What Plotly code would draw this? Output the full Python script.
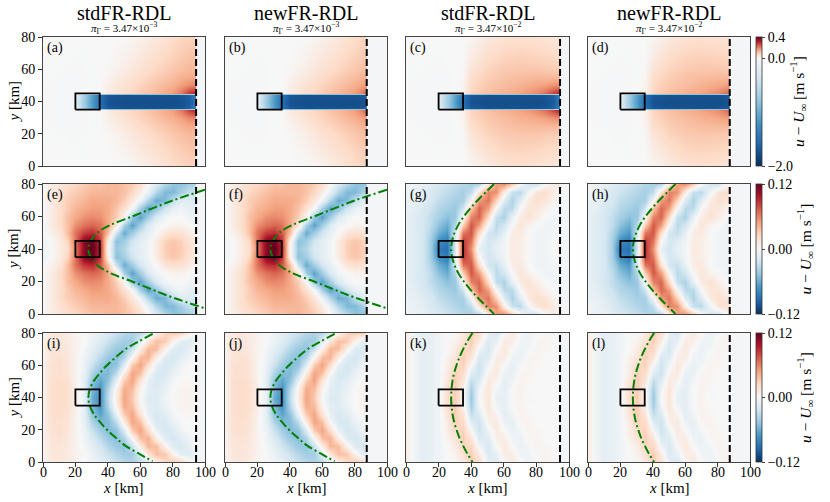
import plotly.graph_objects as go

# ---------------------------------------------------------------- labels
COL_TITLES = ['stdFR-RDL', 'newFR-RDL', 'stdFR-RDL', 'newFR-RDL']
PI_EXP = ['−3', '−3', '−2', '−2']
PANEL_LABELS = ['(a)', '(b)', '(c)', '(d)', '(e)', '(f)',
                '(g)', '(h)', '(i)', '(j)', '(k)', '(l)']
CUT_STD = 94.5          # x of the dashed line, std runs
CUT_NEW = 87.5          # x of the dashed line, new runs
TURBINE_X = [20, 35]
TURBINE_Y = [35, 45]
Y_MID = 40
X_RANGE = [0, 100]
Y_RANGE = [0, 80]
X_TICKS = [0, 20, 40, 60, 80, 100]
Y_TICKS = [0, 20, 40, 60, 80]

ROW1_LIMITS = [-2.0, 0.4]
ROW1_TICKS = [-2.0, 0.0, 0.4]
ROW1_TICKTEXT = ['−2.0', '0.0', '0.4']
ROW23_LIMITS = [-0.12, 0.12]
ROW23_TICKS = [-0.12, 0.0, 0.12]
ROW23_TICKTEXT = ['−0.12', '0.00', '0.12']

RDBU_R = ['#053061', '#2166ac', '#4393c3', '#92c5de', '#d1e5f0', '#f7f7f7',
          '#fddbc7', '#f4a582', '#d6604d', '#b2182b', '#67001f']

# ---------------------------------------------------------------- row 1 fields (upper half, y >= 40)
X1 = [0, 10, 19, 21, 28, 35, 40, 50, 60, 70, 80, 85, 90, 95, 100]
Y1_HALF = [40, 44, 45.5, 50, 55, 60, 70, 80]

U_AB = [
    [-0.01, -0.02, -0.03, -0.35, -0.95, -1.55, -1.75, -1.78, -1.78, -1.78, -1.78, -1.75, -1.7, -1.4, -0.3],
    [-0.01, -0.02, -0.03, -0.3, -0.9, -1.5, -1.7, -1.75, -1.75, -1.75, -1.75, -1.72, -1.65, -1.3, -0.3],
    [-0.01, -0.02, -0.02, -0.02, -0.01, 0.0, 0.035, 0.07, 0.1, 0.13, 0.17, 0.21, 0.28, 0.32, 0.0],
    [-0.01, -0.02, -0.02, -0.02, -0.01, 0.0, 0.025, 0.06, 0.09, 0.115, 0.145, 0.165, 0.19, 0.2, 0.0],
    [-0.005, -0.015, -0.02, -0.02, -0.01, 0.0, 0.015, 0.045, 0.075, 0.1, 0.125, 0.14, 0.15, 0.15, 0.0],
    [-0.005, -0.01, -0.015, -0.015, -0.01, 0.0, 0.005, 0.03, 0.06, 0.085, 0.11, 0.12, 0.13, 0.13, 0.0],
    [0.0, -0.005, -0.01, -0.01, -0.005, 0.0, 0.0, 0.015, 0.04, 0.065, 0.09, 0.1, 0.11, 0.11, 0.0],
    [0.0, 0.0, -0.005, -0.005, 0.0, 0.0, 0.0, 0.0, 0.02, 0.045, 0.075, 0.085, 0.09, 0.09, 0.0],
]

U_CD = [
    [-0.01, -0.02, -0.03, -0.35, -0.95, -1.55, -1.75, -1.78, -1.78, -1.78, -1.78, -1.75, -1.7, -1.4, -0.3],
    [-0.01, -0.02, -0.03, -0.3, -0.9, -1.5, -1.7, -1.75, -1.75, -1.75, -1.75, -1.72, -1.65, -1.3, -0.3],
    [-0.01, -0.02, -0.02, -0.02, -0.01, 0.02, 0.09, 0.12, 0.14, 0.16, 0.19, 0.22, 0.27, 0.32, 0.0],
    [-0.01, -0.02, -0.02, -0.02, -0.01, 0.015, 0.08, 0.11, 0.125, 0.14, 0.155, 0.165, 0.18, 0.19, 0.0],
    [-0.005, -0.015, -0.02, -0.02, -0.01, 0.01, 0.07, 0.1, 0.115, 0.125, 0.13, 0.13, 0.13, 0.13, 0.0],
    [-0.005, -0.01, -0.015, -0.015, -0.01, 0.005, 0.055, 0.09, 0.105, 0.11, 0.11, 0.105, 0.1, 0.1, 0.0],
    [0.0, -0.005, -0.01, -0.01, -0.005, 0.0, 0.03, 0.065, 0.085, 0.09, 0.085, 0.08, 0.075, 0.07, 0.0],
    [0.0, 0.0, -0.005, -0.005, 0.0, 0.0, 0.01, 0.04, 0.06, 0.065, 0.06, 0.055, 0.05, 0.045, 0.0],
]

# ---------------------------------------------------------------- rows 2-3 fields (upper half, y >= 40)
X2 = [0, 5, 10, 15, 20, 25, 30, 35, 40, 45, 50, 55, 60, 65, 70, 75, 80, 85, 90, 95, 100]
Y2_HALF = [40, 45, 50, 55, 60, 65, 70, 75, 80]

U_EF = [
    [-0.005, 0.0, 0.01, 0.02, 0.06, 0.11, 0.125, 0.09, 0.0, -0.045, -0.035, -0.018, -0.012, -0.005, 0.01, 0.03, 0.035, 0.03, 0.02, 0.01, 0.0],
    [-0.005, 0.0, 0.01, 0.025, 0.065, 0.11, 0.12, 0.085, 0.005, -0.05, -0.042, -0.022, -0.012, -0.005, 0.01, 0.028, 0.033, 0.028, 0.018, 0.008, 0.0],
    [0.0, 0.005, 0.015, 0.035, 0.065, 0.085, 0.09, 0.075, 0.035, -0.025, -0.06, -0.042, -0.022, -0.01, 0.0, 0.015, 0.02, 0.018, 0.01, 0.005, 0.0],
    [0.0, 0.01, 0.02, 0.035, 0.055, 0.065, 0.07, 0.065, 0.045, 0.015, -0.04, -0.065, -0.042, -0.018, -0.005, 0.0, 0.005, 0.005, 0.0, -0.005, -0.005],
    [0.0, 0.01, 0.02, 0.035, 0.045, 0.055, 0.058, 0.055, 0.045, 0.03, 0.005, -0.045, -0.065, -0.042, -0.018, -0.005, 0.0, 0.0, -0.005, -0.01, -0.01],
    [0.0, 0.01, 0.02, 0.03, 0.04, 0.045, 0.05, 0.05, 0.045, 0.035, 0.02, 0.0, -0.04, -0.065, -0.048, -0.024, -0.01, -0.005, -0.01, -0.015, -0.015],
    [0.0, 0.01, 0.02, 0.03, 0.035, 0.04, 0.045, 0.045, 0.045, 0.04, 0.03, 0.015, -0.005, -0.035, -0.06, -0.054, -0.03, -0.015, -0.015, -0.02, -0.02],
    [0.0, 0.01, 0.018, 0.025, 0.03, 0.035, 0.04, 0.04, 0.04, 0.04, 0.035, 0.025, 0.01, -0.01, -0.035, -0.054, -0.054, -0.04, -0.028, -0.025, -0.025],
    [0.0, 0.008, 0.015, 0.02, 0.025, 0.03, 0.035, 0.035, 0.04, 0.04, 0.035, 0.03, 0.02, 0.0, -0.018, -0.035, -0.048, -0.048, -0.04, -0.032, -0.03],
]

U_GH = [
    [-0.01, -0.015, -0.02, -0.04, -0.085, -0.09, -0.02, 0.09, 0.055, -0.01, -0.022, -0.01, -0.005, 0.012, 0.008, 0.0, -0.005, -0.005, 0.0, 0.005, 0.0],
    [-0.01, -0.015, -0.02, -0.04, -0.075, -0.085, -0.015, 0.085, 0.065, 0.0, -0.022, -0.015, -0.005, 0.01, 0.008, 0.0, -0.005, -0.005, 0.0, 0.003, 0.0],
    [-0.01, -0.015, -0.02, -0.035, -0.06, -0.07, -0.02, 0.065, 0.075, 0.02, -0.022, -0.028, -0.01, 0.01, 0.012, 0.0, -0.005, -0.005, -0.003, 0.0, 0.0],
    [-0.01, -0.015, -0.02, -0.03, -0.05, -0.06, -0.035, 0.03, 0.075, 0.05, 0.0, -0.033, -0.022, 0.0, 0.015, 0.005, 0.0, -0.005, -0.005, 0.0, 0.0],
    [-0.01, -0.015, -0.02, -0.03, -0.04, -0.05, -0.045, 0.0, 0.06, 0.07, 0.022, -0.028, -0.038, -0.01, 0.01, 0.018, 0.008, 0.0, -0.005, 0.0, 0.0],
    [-0.01, -0.012, -0.018, -0.025, -0.035, -0.04, -0.045, -0.025, 0.032, 0.07, 0.05, 0.0, -0.033, -0.033, 0.0, 0.015, 0.015, 0.005, 0.0, 0.0, 0.0],
    [-0.008, -0.01, -0.015, -0.02, -0.03, -0.035, -0.04, -0.04, -0.005, 0.05, 0.065, 0.028, -0.016, -0.038, -0.016, 0.01, 0.02, 0.015, 0.005, 0.0, 0.0],
    [-0.005, -0.008, -0.012, -0.018, -0.025, -0.03, -0.035, -0.04, -0.03, 0.016, 0.06, 0.055, 0.01, -0.027, -0.033, -0.005, 0.015, 0.02, 0.01, 0.0, 0.0],
    [-0.005, -0.008, -0.01, -0.015, -0.02, -0.025, -0.03, -0.035, -0.04, -0.035, 0.01, 0.05, 0.055, 0.032, 0.0, -0.022, -0.022, 0.0, 0.01, 0.01, 0.0],
]

U_IJ = [
    [0.005, 0.02, 0.022, 0.02, 0.008, -0.01, -0.06, -0.075, -0.03, 0.01, 0.048, 0.032, 0.0, -0.016, -0.016, -0.005, 0.0, 0.005, 0.005, 0.003, 0.0],
    [0.005, 0.02, 0.022, 0.02, 0.008, -0.01, -0.055, -0.072, -0.035, 0.005, 0.045, 0.037, 0.005, -0.013, -0.016, -0.008, 0.0, 0.004, 0.004, 0.002, 0.0],
    [0.005, 0.02, 0.022, 0.018, 0.006, -0.012, -0.048, -0.064, -0.048, -0.01, 0.032, 0.048, 0.016, -0.01, -0.019, -0.013, -0.003, 0.002, 0.002, 0.0, 0.0],
    [0.005, 0.018, 0.02, 0.016, 0.005, -0.01, -0.037, -0.053, -0.053, -0.032, 0.01, 0.048, 0.037, 0.0, -0.019, -0.019, -0.008, -0.002, 0.0, 0.0, 0.0],
    [0.005, 0.018, 0.02, 0.015, 0.005, -0.008, -0.026, -0.042, -0.053, -0.048, -0.016, 0.032, 0.048, 0.021, -0.01, -0.021, -0.016, -0.005, 0.0, 0.0, 0.0],
    [0.005, 0.016, 0.018, 0.014, 0.005, -0.005, -0.018, -0.032, -0.045, -0.051, -0.037, 0.0, 0.037, 0.042, 0.01, -0.016, -0.021, -0.013, -0.005, 0.0, 0.0],
    [0.005, 0.015, 0.016, 0.012, 0.005, -0.003, -0.012, -0.023, -0.035, -0.045, -0.048, -0.026, 0.01, 0.04, 0.037, 0.005, -0.016, -0.019, -0.01, 0.0, 0.0],
    [0.004, 0.013, 0.015, 0.012, 0.005, 0.0, -0.008, -0.016, -0.026, -0.035, -0.042, -0.042, -0.016, 0.016, 0.037, 0.032, 0.005, -0.013, -0.016, -0.005, 0.0],
    [0.004, 0.012, 0.014, 0.01, 0.005, 0.0, -0.005, -0.01, -0.019, -0.026, -0.034, -0.037, -0.032, -0.016, 0.005, 0.026, 0.032, 0.026, 0.005, -0.005, 0.0],
]

U_KL = [
    [0.01, -0.005, -0.012, -0.01, -0.005, 0.02, 0.03, 0.005, -0.045, 0.0, 0.015, -0.01, -0.012, 0.0, 0.005, -0.003, 0.0, 0.0, 0.0, 0.0, 0.0],
    [0.01, -0.005, -0.012, -0.01, -0.005, 0.02, 0.03, 0.005, -0.04, -0.005, 0.015, -0.005, -0.012, 0.0, 0.005, 0.0, 0.0, 0.0, 0.0, 0.0, 0.0],
    [0.01, -0.005, -0.012, -0.01, -0.005, 0.015, 0.03, 0.015, -0.03, -0.015, 0.012, 0.005, -0.012, -0.005, 0.005, 0.002, 0.0, 0.0, 0.0, 0.0, 0.0],
    [0.01, -0.005, -0.012, -0.01, -0.005, 0.01, 0.028, 0.022, -0.015, -0.025, 0.005, 0.012, -0.008, -0.01, 0.003, 0.004, 0.0, 0.0, 0.0, 0.0, 0.0],
    [0.01, -0.005, -0.012, -0.01, -0.005, 0.008, 0.022, 0.028, 0.0, -0.025, -0.005, 0.012, 0.0, -0.01, -0.003, 0.004, 0.002, 0.0, 0.0, 0.0, 0.0],
    [0.01, -0.005, -0.012, -0.01, -0.005, 0.005, 0.015, 0.03, 0.015, -0.018, -0.015, 0.008, 0.01, -0.006, -0.008, 0.002, 0.004, 0.0, 0.0, 0.0, 0.0],
    [0.01, -0.005, -0.012, -0.01, -0.005, 0.0, 0.01, 0.025, 0.025, -0.005, -0.02, 0.0, 0.012, 0.0, -0.008, -0.003, 0.004, 0.002, 0.0, 0.0, 0.0],
    [0.01, -0.005, -0.012, -0.01, -0.005, 0.0, 0.005, 0.018, 0.03, 0.01, -0.018, -0.01, 0.01, 0.008, -0.005, -0.006, 0.002, 0.004, 0.0, 0.0, 0.0],
    [0.01, -0.005, -0.012, -0.01, -0.005, 0.0, 0.0, 0.01, 0.03, 0.02, -0.01, -0.018, 0.0, 0.012, 0.0, -0.008, -0.002, 0.004, 0.002, 0.0, 0.0],
]

# ---------------------------------------------------------------- green dash-dot curves (upper arm)
CURVE_EF_Y = [40, 43, 46, 50, 55, 60, 65, 70, 76.5]
CURVE_EF_X = [28, 28.6, 30.2, 33.5, 42, 55, 67.5, 80.5, 100]
CURVE_GH_Y = [40, 45, 50, 55, 60, 65, 70, 75, 80]
CURVE_GH_X = [27.7, 28.3, 29.8, 32.2, 35.5, 39.5, 44, 49, 54]
CURVE_IJ_Y = [40, 45, 50, 55, 60, 65, 70, 75, 79.5]
CURVE_IJ_X = [28, 28.8, 31.2, 35, 39.5, 45, 51, 59.5, 67.7]
CURVE_KL_Y = [40, 45, 50, 55, 60, 65, 70, 75, 80]
CURVE_KL_X = [27.7, 27.9, 28.5, 29.5, 31, 32.8, 35.1, 37.7, 40.8]


def mirror_field(y_half, rows):
    ys = [2 * Y_MID - v for v in reversed(y_half[1:])] + list(y_half)
    zs = list(reversed(rows[1:])) + list(rows)
    return ys, zs


def mirror_curve(cx, cy):
    xs = list(reversed(cx)) + list(cx[1:])
    ys = list(reversed(cy)) + [2 * Y_MID - v for v in cy[1:]]
    return xs, ys


def two_slope(vmin, vmax):
    mid = (0 - vmin) / (vmax - vmin)
    cs = []
    for i, c in enumerate(RDBU_R):
        if i <= 5:
            pos = mid * i / 5
        else:
            pos = mid + (1 - mid) * (i - 5) / 5
        cs.append([pos, c])
    return cs


SYM_CS = [[i / 10, c] for i, c in enumerate(RDBU_R)]

FIELDS = {
    'ab': (X1, Y1_HALF, U_AB), 'cd': (X1, Y1_HALF, U_CD),
    'ef': (X2, Y2_HALF, U_EF), 'gh': (X2, Y2_HALF, U_GH),
    'ij': (X2, Y2_HALF, U_IJ), 'kl': (X2, Y2_HALF, U_KL),
}
CURVES = {
    'ef': (CURVE_EF_X, CURVE_EF_Y), 'gh': (CURVE_GH_X, CURVE_GH_Y),
    'ij': (CURVE_IJ_X, CURVE_IJ_Y), 'kl': (CURVE_KL_X, CURVE_KL_Y),
}
# field key per panel, row by row
PANEL_FIELDS = ['ab', 'ab', 'cd', 'cd',
                'ef', 'ef', 'gh', 'gh',
                'ij', 'ij', 'kl', 'kl']
PANEL_CUTS = [CUT_STD, CUT_NEW, CUT_STD, CUT_NEW] * 3

# ---------------------------------------------------------------- layout (pixels of the 830x502 page)
W, H = 830, 502
COL_PX = [(43, 205), (225, 387), (406, 569), (588, 750)]
ROW_PX = [(37, 166), (184, 314), (333, 462)]
CBAR_X = 756
FONT = 'Liberation Serif'


def fx_(px):
    return px / W


def fy_(py):
    return 1 - py / H


fig = go.Figure()
annotations = []

for k in range(12):
    r, c = divmod(k, 4)
    n = k + 1
    xname = 'x' if n == 1 else f'x{n}'
    yname = 'y' if n == 1 else f'y{n}'
    cax = 'coloraxis' if r == 0 else f'coloraxis{r + 1}'

    fx, fy_half, rows = FIELDS[PANEL_FIELDS[k]]
    fy, fz = mirror_field(fy_half, rows)
    fig.add_trace(go.Heatmap(x=fx, y=fy, z=fz, zsmooth='best', coloraxis=cax,
                             xaxis=xname, yaxis=yname, hoverinfo='skip'))

    cut = PANEL_CUTS[k]
    # buffer zone behind the dashed line
    fig.add_trace(go.Scatter(
        x=[cut, X_RANGE[1], X_RANGE[1], cut, cut],
        y=[Y_RANGE[0], Y_RANGE[0], Y_RANGE[1], Y_RANGE[1], Y_RANGE[0]],
        mode='lines', fill='toself', fillcolor='#f4f5f6',
        line=dict(width=0), xaxis=xname, yaxis=yname, hoverinfo='skip'))

    if PANEL_FIELDS[k] in CURVES:
        cx, cy = mirror_curve(*CURVES[PANEL_FIELDS[k]])
        fig.add_trace(go.Scatter(
            x=cx, y=cy, mode='lines', line_shape='spline',
            line=dict(color='#008000', width=2, dash='9px,3px,2px,3px'),
            xaxis=xname, yaxis=yname, hoverinfo='skip'))

    fig.add_trace(go.Scatter(
        x=[TURBINE_X[0], TURBINE_X[1], TURBINE_X[1], TURBINE_X[0], TURBINE_X[0]],
        y=[TURBINE_Y[0], TURBINE_Y[0], TURBINE_Y[1], TURBINE_Y[1], TURBINE_Y[0]],
        mode='lines', line=dict(color='black', width=1.8),
        xaxis=xname, yaxis=yname, hoverinfo='skip'))

    fig.add_trace(go.Scatter(
        x=[cut, cut], y=Y_RANGE, mode='lines',
        line=dict(color='black', width=2, dash='7px,3px'),
        xaxis=xname, yaxis=yname, hoverinfo='skip'))

    x0, x1 = COL_PX[c]
    y0, y1 = ROW_PX[r]
    fig.update_layout({
        ('xaxis' if n == 1 else f'xaxis{n}'): dict(
            domain=[fx_(x0), fx_(x1)], range=X_RANGE, anchor=yname,
            showgrid=False, zeroline=False, showline=True, mirror=True,
            linecolor='#444444', linewidth=1,
            tickvals=X_TICKS, showticklabels=False,
            ticks='outside' if r == 2 else '', ticklen=4, tickcolor='#333333'),
        ('yaxis' if n == 1 else f'yaxis{n}'): dict(
            domain=[fy_(y1), fy_(y0)], range=Y_RANGE, anchor=xname,
            showgrid=False, zeroline=False, showline=True, mirror=True,
            linecolor='#444444', linewidth=1,
            tickvals=Y_TICKS, showticklabels=(c == 0),
            ticks='outside' if c == 0 else '', ticklen=4, tickcolor='#333333',
            tickfont=dict(family=FONT, size=14, color='black')),
    })

    annotations.append(dict(
        text=PANEL_LABELS[k], xref=f'{xname} domain', yref=f'{yname} domain',
        x=0.015, y=0.99, xanchor='left', yanchor='top', showarrow=False,
        font=dict(family=FONT, size=14, color='black')))

    if r == 0:
        annotations.append(dict(
            text=COL_TITLES[c], xref=f'{xname} domain', yref='paper',
            x=0.5, y=fy_(13), xanchor='center', yanchor='middle', showarrow=False,
            font=dict(family=FONT, size=20, color='black')))
        annotations.append(dict(
            text=f'<i>π</i><sub>Γ</sub> = 3.47×10<sup>{PI_EXP[c]}</sup>',
            xref=f'{xname} domain', yref='paper',
            x=0.5, y=fy_(28), xanchor='center', yanchor='middle', showarrow=False,
            font=dict(family=FONT, size=11, color='black')))
    if c == 0:
        annotations.append(dict(
            text='<i>y</i> [km]', xref='paper', yref=f'{yname} domain',
            x=fx_(13), y=0.5, textangle=-90, xanchor='center', yanchor='middle',
            showarrow=False, font=dict(family=FONT, size=15, color='black')))
    if r == 2:
        # tick labels of the bottom row, placed like the reference
        for v in X_TICKS:
            annotations.append(dict(
                text=str(v), xref=xname, yref='paper', x=v, y=fy_(472),
                xanchor='center', yanchor='middle', showarrow=False,
                font=dict(family=FONT, size=14, color='black')))
        annotations.append(dict(
            text='<i>x</i> [km]', xref=f'{xname} domain', yref='paper',
            x=0.5, y=fy_(488), xanchor='center', yanchor='middle',
            showarrow=False, font=dict(family=FONT, size=15, color='black')))


def colorbar(r, tickvals, ticktext):
    y0, y1 = ROW_PX[r]
    return dict(
        x=fx_(CBAR_X), xanchor='left', xpad=0, ypad=0,
        y=fy_((y0 + y1) / 2), yanchor='middle',
        len=(y1 - y0) / H, lenmode='fraction', thickness=6,
        outlinewidth=0.8, outlinecolor='#333333',
        tickvals=tickvals, ticktext=ticktext, ticks='outside', ticklen=3,
        tickfont=dict(family=FONT, size=14, color='black'),
        title=dict(text='<i>u</i> − <i>U</i><sub>∞</sub> [m s<sup>−1</sup>]',
                   side='right', font=dict(family=FONT, size=15.5, color='black')))


fig.update_layout(
    width=W, height=H,
    margin=dict(l=0, r=0, t=0, b=0, autoexpand=False),
    paper_bgcolor='white', plot_bgcolor='white',
    showlegend=False,
    annotations=annotations,
    coloraxis=dict(colorscale=two_slope(*ROW1_LIMITS), cmin=ROW1_LIMITS[0], cmax=ROW1_LIMITS[1],
                   colorbar=colorbar(0, ROW1_TICKS, ROW1_TICKTEXT)),
    coloraxis2=dict(colorscale=SYM_CS, cmin=ROW23_LIMITS[0], cmax=ROW23_LIMITS[1],
                    colorbar=colorbar(1, ROW23_TICKS, ROW23_TICKTEXT)),
    coloraxis3=dict(colorscale=SYM_CS, cmin=ROW23_LIMITS[0], cmax=ROW23_LIMITS[1],
                    colorbar=colorbar(2, ROW23_TICKS, ROW23_TICKTEXT)),
)

# the page body would otherwise add an 8 px margin around the figure
fig.write_html('out.html', config={'displayModeBar': False},
               post_script="document.body.style.margin = '0';")
